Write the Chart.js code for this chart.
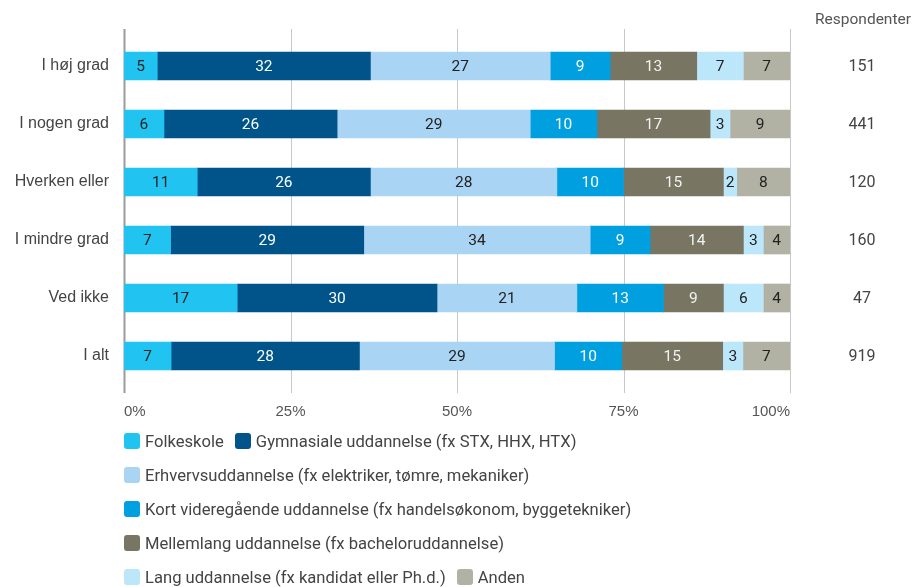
<!DOCTYPE html>
<html>
<head>
<meta charset="utf-8">
<script src="https://cdn.jsdelivr.net/npm/chart.js@4.4.1/dist/chart.umd.min.js"></script>
<style>
  html, body { margin: 0; padding: 0; background: #fff; }
  #wrap { position: relative; width: 917px; height: 587px; overflow: hidden; }
  #chart { position: absolute; left: 0; top: 0; }
  #legend { position: absolute; left: 124px; top: 424px; font: 16.6px Roboto, sans-serif; color: #444; }
  #legend .row { height: 34px; display: flex; align-items: center; white-space: nowrap; }
  #legend .item { display: flex; align-items: center; margin-right: 11px; }
  #legend .box { width: 16px; height: 16px; border-radius: 3px; margin-right: 5px; }
</style>
</head>
<body>
<div id="wrap">
  <canvas id="chart" width="917" height="587"></canvas>
  <div id="legend"></div>
</div>
<script>
// Answer groups (rows of the chart)
const categories = ['I høj grad', 'I nogen grad', 'Hverken eller', 'I mindre grad', 'Ved ikke', 'I alt'];

// Number of respondents in each answer group
const respondents = ['151', '441', '120', '160', '47', '919'];

// Education series, percent of each answer group
const seriesNames = [
  'Folkeskole',
  'Gymnasiale uddannelse (fx STX, HHX, HTX)',
  'Erhvervsuddannelse (fx elektriker, tømre, mekaniker)',
  'Kort videregående uddannelse (fx handelsøkonom, byggetekniker)',
  'Mellemlang uddannelse (fx bacheloruddannelse)',
  'Lang uddannelse (fx kandidat eller Ph.d.)',
  'Anden'
];
const folkeskole   = [5, 6, 11, 7, 17, 7];
const gymnasiale   = [32, 26, 26, 29, 30, 28];
const erhverv      = [27, 29, 28, 34, 21, 29];
const kortVideregaaende = [9, 10, 10, 9, 13, 10];
const mellemlang   = [13, 17, 15, 14, 9, 15];
const lang         = [7, 3, 2, 3, 6, 3];
const anden        = [7, 9, 8, 4, 4, 7];

// X axis tick values
const xTicks = [0, 25, 50, 75, 100];

const seriesValues = [folkeskole, gymnasiale, erhverv, kortVideregaaende, mellemlang, lang, anden];
const colors = ['#21c3f1', '#00548a', '#a9d4f3', '#009fe0', '#787563', '#bce6fa', '#b2b2a4'];
const labelColors = ['#222', '#fff', '#222', '#fff', '#f2f2f2', '#222', '#222'];

// Each row is shown as a 100% stacked bar
const rowTotals = categories.map((_, r) => seriesValues.reduce((s, arr) => s + arr[r], 0));

const datasets = seriesNames.map((name, i) => ({
  label: name,
  data: seriesValues[i].map((v, r) => v / rowTotals[r] * 100),
  rawValues: seriesValues[i],
  backgroundColor: colors[i],
  borderWidth: 0,
  barThickness: 28,
  labelColor: labelColors[i]
}));

// Vertical grid lines, running a little past the plot at both ends
const gridPlugin = {
  id: 'extendedGrid',
  beforeDatasetsDraw(chart) {
    const { ctx, chartArea, scales } = chart;
    const xs = scales.x;
    ctx.save();
    xs.ticks.forEach((t, i) => {
      const x = Math.round(xs.getPixelForValue(t.value)) + 0.5;
      ctx.beginPath();
      ctx.strokeStyle = i === 0 ? '#9b9b9b' : '#c8c8c8';
      ctx.lineWidth = i === 0 ? 2 : 1;
      ctx.moveTo(x, chartArea.top - 8);
      ctx.lineTo(x, chartArea.bottom + 8);
      ctx.stroke();
    });
    ctx.restore();
  }
};

// Value labels inside each bar segment, plus the respondent column
const labelPlugin = {
  id: 'segmentLabels',
  afterDatasetsDraw(chart) {
    const { ctx, chartArea, scales } = chart;
    ctx.save();
    ctx.font = '15.5px Roboto, sans-serif';
    ctx.textAlign = 'center';
    ctx.textBaseline = 'middle';
    chart.data.datasets.forEach((ds, di) => {
      const meta = chart.getDatasetMeta(di);
      meta.data.forEach((bar, r) => {
        const v = ds.rawValues[r];
        const cx = (bar.x + bar.base) / 2;
        ctx.fillStyle = ds.labelColor;
        ctx.fillText(String(v), cx, bar.y + 1);
      });
    });
    const colX = chartArea.right + 72;
    ctx.fillStyle = '#444';
    ctx.font = '16px Roboto, sans-serif';
    respondents.forEach((n, r) => {
      ctx.fillText(n, colX, scales.y.getPixelForValue(r) + 1);
    });
    ctx.fillStyle = '#555';
    ctx.font = '15.5px Roboto, sans-serif';
    ctx.fillText('Respondenter', colX + 1, 20);
    ctx.restore();
  }
};

const chart = new Chart(document.getElementById('chart'), {
  type: 'bar',
  data: { labels: categories, datasets },
  options: {
    indexAxis: 'y',
    responsive: false,
    animation: false,
    events: [],
    layout: { padding: { top: 37, bottom: 168, left: 0, right: 127 } },
    plugins: {
      legend: { display: false },
      tooltip: { enabled: false },
      title: { display: false }
    },
    scales: {
      x: {
        type: 'linear',
        stacked: true,
        min: 0,
        max: 100,
        afterBuildTicks(scale) { scale.ticks = xTicks.map(v => ({ value: v })); },
        afterFit(scale) { scale.height = 34; },
        ticks: {
          callback: v => v + '%',
          align: 'inner',
          color: '#555',
          font: { size: 15 },
          padding: 10
        },
        grid: { display: false },
        border: { display: false }
      },
      y: {
        type: 'category',
        stacked: true,
        offset: true,
        afterFit(scale) { scale.width = 124; },
        ticks: { color: '#444', font: { size: 16 }, padding: 15 },
        grid: { display: false, drawTicks: false },
        border: { display: false }
      }
    }
  },
  plugins: [gridPlugin, labelPlugin]
});

// Legend rows built from the dataset names and colours
const legendRows = [[0, 1], [2], [3], [4], [5, 6]];
const legendEl = document.getElementById('legend');
legendRows.forEach(row => {
  const rowEl = document.createElement('div');
  rowEl.className = 'row';
  row.forEach(i => {
    const item = document.createElement('div');
    item.className = 'item';
    const box = document.createElement('div');
    box.className = 'box';
    box.style.background = chart.data.datasets[i].backgroundColor;
    const txt = document.createElement('span');
    txt.textContent = chart.data.datasets[i].label;
    item.appendChild(box);
    item.appendChild(txt);
    rowEl.appendChild(item);
  });
  legendEl.appendChild(rowEl);
});
</script>
</body>
</html>
